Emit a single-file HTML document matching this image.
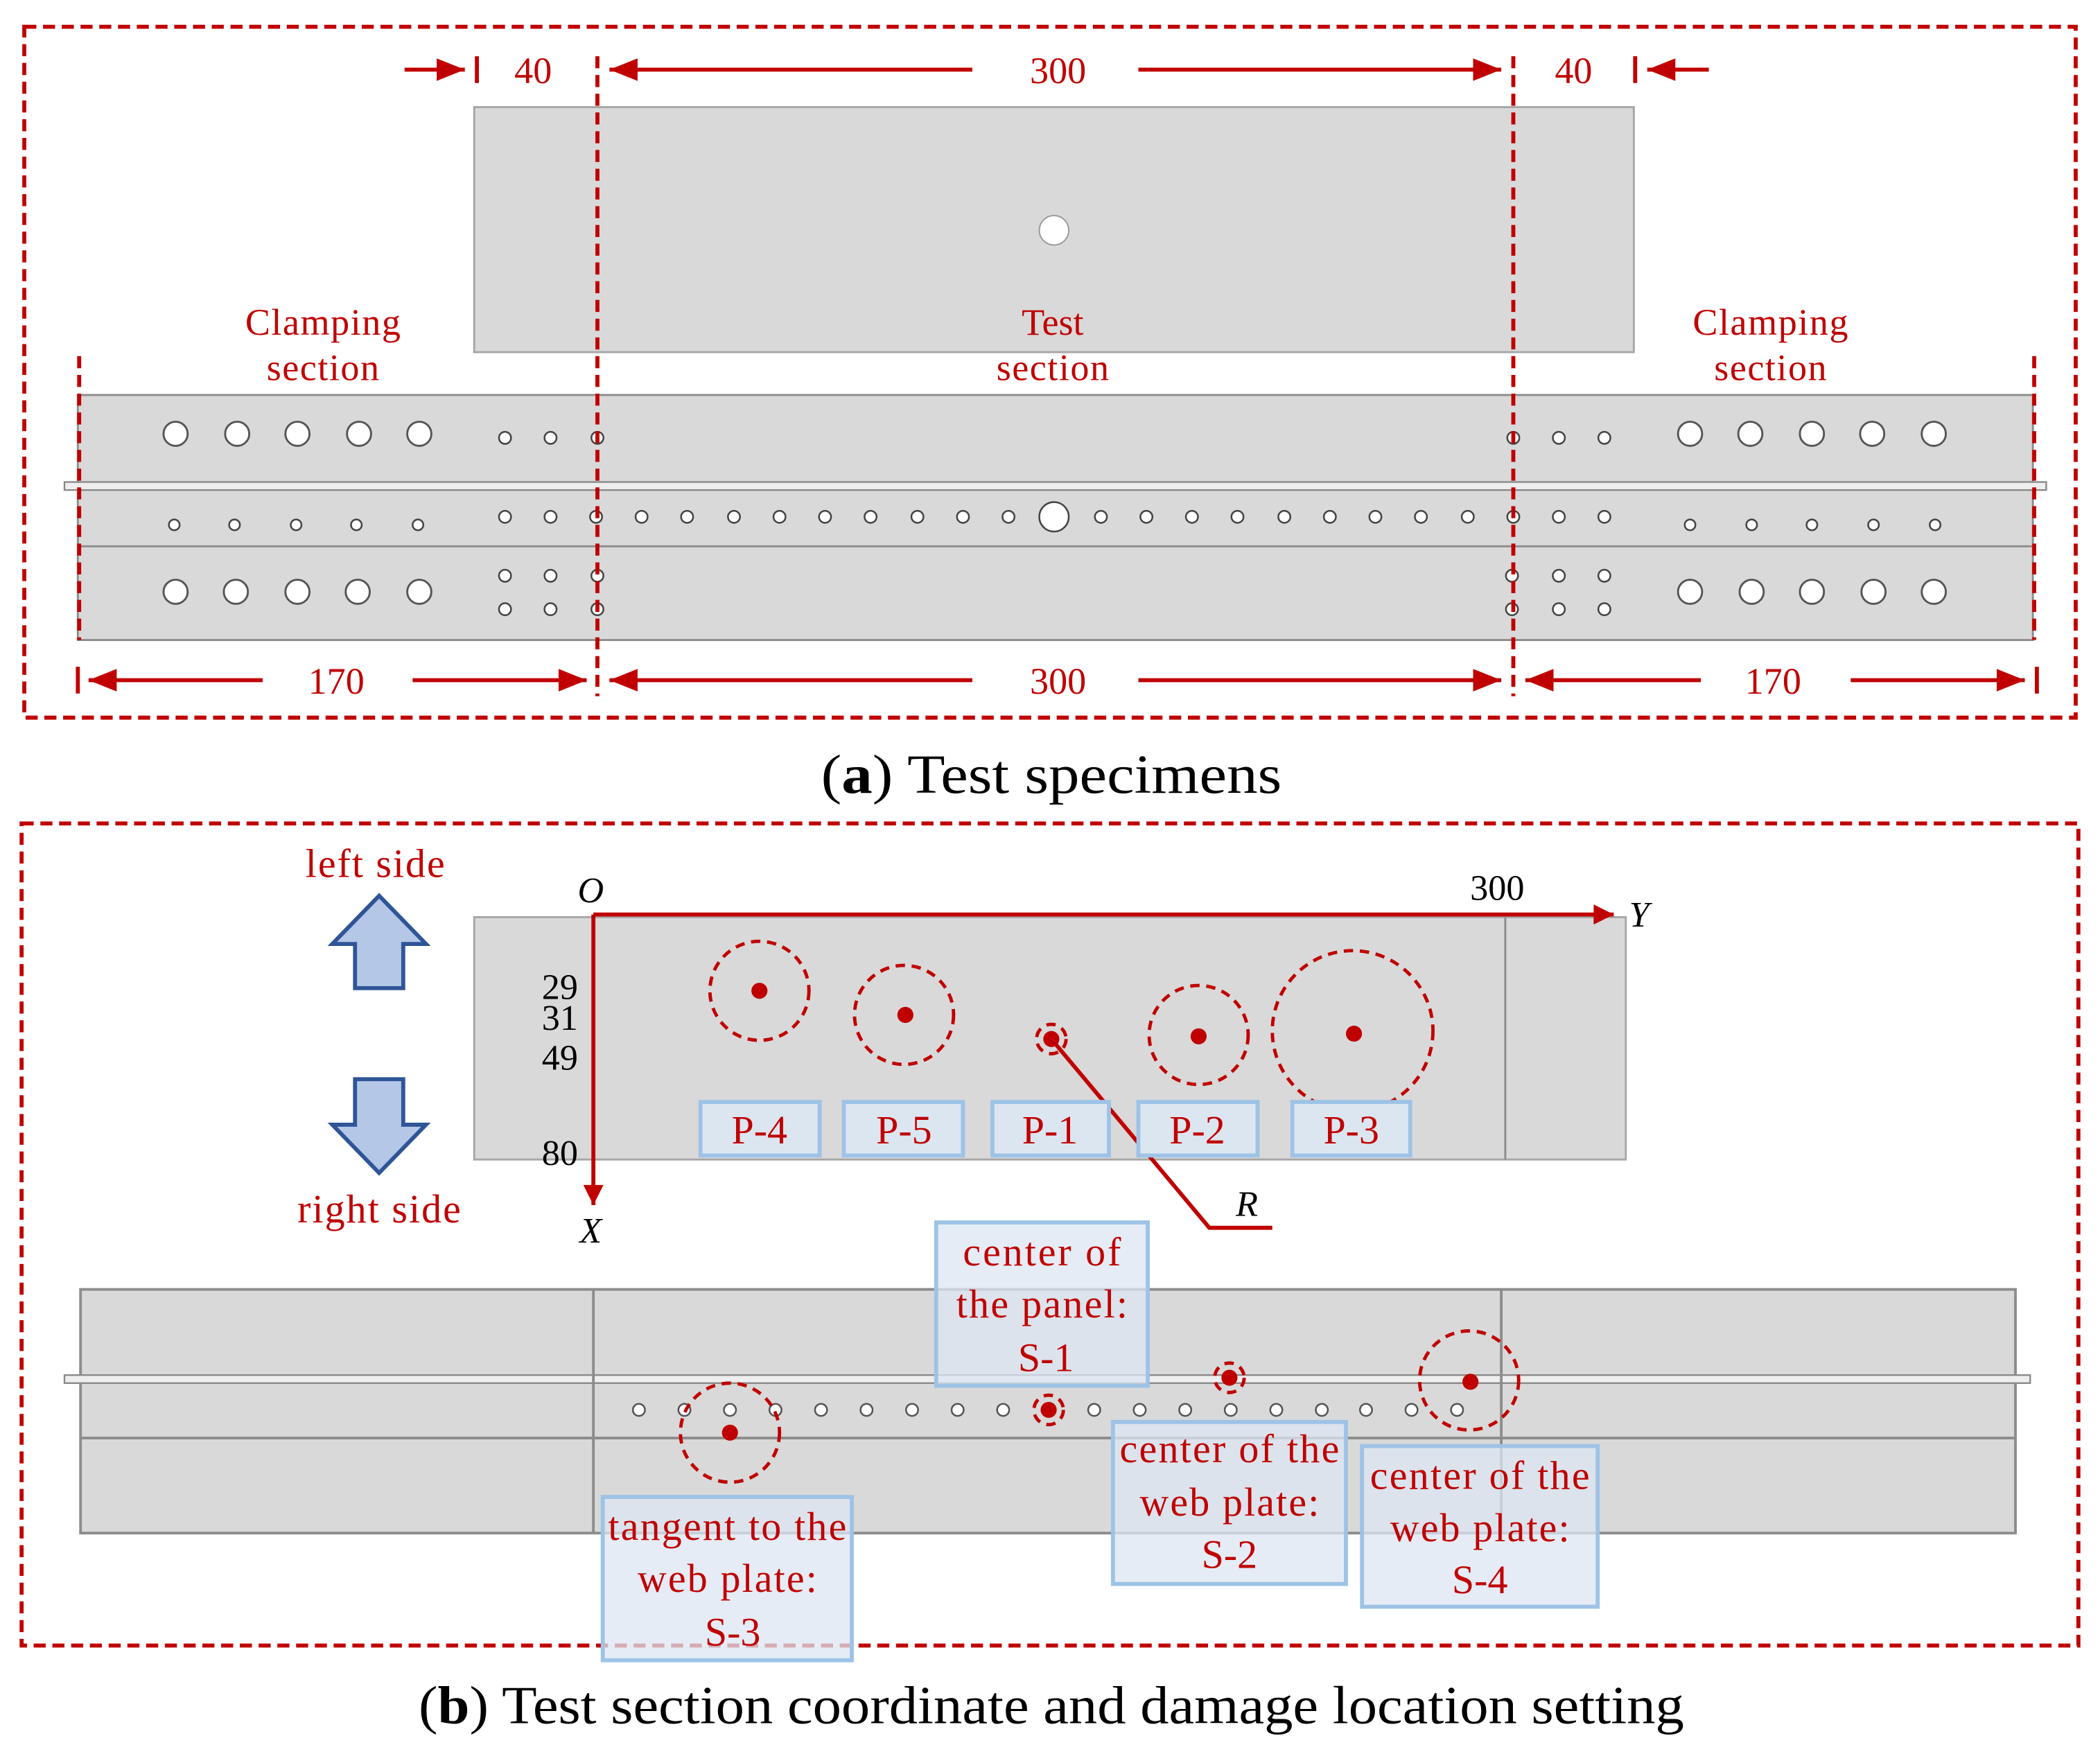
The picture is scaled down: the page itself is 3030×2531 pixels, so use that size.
<!DOCTYPE html>
<html><head><meta charset="utf-8"><style>
html,body{margin:0;padding:0;background:#fff;}
svg{display:block;}
text{font-family:"Liberation Serif",serif;}
</style></head><body>
<svg width="3030" height="2531" viewBox="0 0 1568 1310" xmlns="http://www.w3.org/2000/svg">
<defs>
<marker id="ar" viewBox="0 0 10 10" refX="10" refY="5" markerWidth="7" markerHeight="7" orient="auto"><path d="M0,1 L10,5 L0,9 z" fill="#c00000"/></marker>
<marker id="ar2" viewBox="0 0 10 10" refX="10" refY="5" markerWidth="6" markerHeight="5" orient="auto"><path d="M0,0 L10,5 L0,10 z" fill="#c00000"/></marker>
</defs>
<g fill="none" stroke="#c00000" stroke-width="3" stroke-dasharray="9,5">
<rect x="18" y="20" width="1532" height="516"/>
<rect x="16" y="615" width="1536" height="614"/>
</g>
<!-- (a) -->
<rect x="354" y="80" width="866" height="183" fill="#d9d9d9" stroke="#a6a6a6" stroke-width="1.5"/>
<circle cx="787" cy="172" r="11" fill="#fff" stroke="#999"/>
<rect x="58" y="295" width="1460" height="183" fill="#d9d9d9" stroke="#8c8c8c" stroke-width="1.5"/>
<rect x="48" y="360" width="1480" height="6" fill="#eee" stroke="#888" stroke-width="1.2"/>
<line x1="58" y1="408" x2="1518" y2="408" stroke="#8c8c8c" stroke-width="1.5"/>
<g fill="#fff" stroke="#555" stroke-width="1.5">
<circle cx="131" cy="324" r="9"/><circle cx="177" cy="324" r="9"/><circle cx="222" cy="324" r="9"/><circle cx="268" cy="324" r="9"/><circle cx="313" cy="324" r="9"/>
<circle cx="131" cy="442" r="9"/><circle cx="176" cy="442" r="9"/><circle cx="222" cy="442" r="9"/><circle cx="267" cy="442" r="9"/><circle cx="313" cy="442" r="9"/>
<circle cx="1262" cy="324" r="9"/><circle cx="1307" cy="324" r="9"/><circle cx="1353" cy="324" r="9"/><circle cx="1398" cy="324" r="9"/><circle cx="1444" cy="324" r="9"/>
<circle cx="1262" cy="442" r="9"/><circle cx="1308" cy="442" r="9"/><circle cx="1353" cy="442" r="9"/><circle cx="1399" cy="442" r="9"/><circle cx="1444" cy="442" r="9"/>
</g>
<g fill="#fff" stroke="#444" stroke-width="1.3">
<circle cx="130" cy="392" r="4"/><circle cx="175" cy="392" r="4"/><circle cx="221" cy="392" r="4"/><circle cx="266" cy="392" r="4"/><circle cx="312" cy="392" r="4"/>
<circle cx="1262" cy="392" r="4"/><circle cx="1308" cy="392" r="4"/><circle cx="1353" cy="392" r="4"/><circle cx="1399" cy="392" r="4"/><circle cx="1445" cy="392" r="4"/>
<circle cx="377" cy="327" r="4.5"/><circle cx="411" cy="327" r="4.5"/><circle cx="446" cy="327" r="4.5"/>
<circle cx="1130" cy="327" r="4.5"/><circle cx="1164" cy="327" r="4.5"/><circle cx="1198" cy="327" r="4.5"/>
<circle cx="377" cy="430" r="4.5"/><circle cx="411" cy="430" r="4.5"/><circle cx="446" cy="430" r="4.5"/>
<circle cx="377" cy="455" r="4.5"/><circle cx="411" cy="455" r="4.5"/><circle cx="446" cy="455" r="4.5"/>
<circle cx="1129" cy="430" r="4.5"/><circle cx="1164" cy="430" r="4.5"/><circle cx="1198" cy="430" r="4.5"/>
<circle cx="1129" cy="455" r="4.5"/><circle cx="1164" cy="455" r="4.5"/><circle cx="1198" cy="455" r="4.5"/>
<circle cx="377" cy="386" r="4.5"/><circle cx="411" cy="386" r="4.5"/><circle cx="445" cy="386" r="4.5"/><circle cx="479" cy="386" r="4.5"/><circle cx="513" cy="386" r="4.5"/><circle cx="548" cy="386" r="4.5"/><circle cx="582" cy="386" r="4.5"/><circle cx="616" cy="386" r="4.5"/><circle cx="650" cy="386" r="4.5"/><circle cx="685" cy="386" r="4.5"/><circle cx="719" cy="386" r="4.5"/><circle cx="753" cy="386" r="4.5"/>
<circle cx="822" cy="386" r="4.5"/><circle cx="856" cy="386" r="4.5"/><circle cx="890" cy="386" r="4.5"/><circle cx="924" cy="386" r="4.5"/><circle cx="959" cy="386" r="4.5"/><circle cx="993" cy="386" r="4.5"/><circle cx="1027" cy="386" r="4.5"/><circle cx="1061" cy="386" r="4.5"/><circle cx="1096" cy="386" r="4.5"/><circle cx="1130" cy="386" r="4.5"/><circle cx="1164" cy="386" r="4.5"/><circle cx="1198" cy="386" r="4.5"/>
<circle cx="787" cy="386" r="11"/>
</g>
<g stroke="#c00000" stroke-width="3" stroke-dasharray="9,5">
<line x1="446" y1="42" x2="446" y2="520"/><line x1="1130" y1="42" x2="1130" y2="520"/>
<line x1="59" y1="266" x2="59" y2="478"/><line x1="1519" y1="266" x2="1519" y2="478"/>
</g>
<g stroke="#c00000" stroke-width="3">
<line x1="356" y1="42" x2="356" y2="62"/><line x1="1221" y1="42" x2="1221" y2="62"/>
<line x1="58" y1="498" x2="58" y2="518"/><line x1="1521" y1="498" x2="1521" y2="518"/>
<line x1="302" y1="52" x2="347" y2="52" marker-end="url(#ar)"/>
<line x1="726" y1="52" x2="455" y2="52" marker-end="url(#ar)"/>
<line x1="850" y1="52" x2="1121" y2="52" marker-end="url(#ar)"/>
<line x1="1276" y1="52" x2="1230" y2="52" marker-end="url(#ar)"/>
<line x1="196" y1="508" x2="66" y2="508" marker-end="url(#ar)"/>
<line x1="308" y1="508" x2="438" y2="508" marker-end="url(#ar)"/>
<line x1="726" y1="508" x2="455" y2="508" marker-end="url(#ar)"/>
<line x1="850" y1="508" x2="1121" y2="508" marker-end="url(#ar)"/>
<line x1="1270" y1="508" x2="1139" y2="508" marker-end="url(#ar)"/>
<line x1="1382" y1="508" x2="1512" y2="508" marker-end="url(#ar)"/>
</g>
<g fill="#c00000" font-size="28" text-anchor="middle" lengthAdjust="spacingAndGlyphs">
<text x="398" y="62">40</text><text x="790" y="62">300</text><text x="1175" y="62">40</text>
<text x="251" y="518">170</text><text x="790" y="518">300</text><text x="1324" y="518">170</text>
<text x="241" y="250" textLength="116">Clamping</text><text x="241" y="284" textLength="84">section</text>
<text x="786" y="250">Test</text><text x="786" y="284" textLength="84">section</text>
<text x="1322" y="250" textLength="116">Clamping</text><text x="1322" y="284" textLength="84">section</text>
</g>
<text x="785" y="592" font-size="41" text-anchor="middle" fill="#000" textLength="344" lengthAdjust="spacingAndGlyphs">(<tspan font-weight="bold">a</tspan>) Test specimens</text>
<!-- (b) -->
<rect x="354" y="685" width="860" height="181" fill="#d9d9d9" stroke="#a6a6a6" stroke-width="1.5"/>
<line x1="1124" y1="685" x2="1124" y2="866" stroke="#8c8c8c" stroke-width="1.5"/>
<rect x="60" y="963" width="1445" height="182" fill="#d9d9d9" stroke="#8c8c8c" stroke-width="2"/>
<rect x="48" y="1027" width="1468" height="6" fill="#eee" stroke="#888" stroke-width="1.2"/>
<line x1="60" y1="1074" x2="1505" y2="1074" stroke="#8c8c8c" stroke-width="2"/>
<line x1="443" y1="963" x2="443" y2="1145" stroke="#8c8c8c" stroke-width="2"/>
<line x1="1121" y1="963" x2="1121" y2="1145" stroke="#8c8c8c" stroke-width="2"/>
<g fill="#fff" stroke="#555" stroke-width="1.3">
<circle cx="477" cy="1053" r="4.5"/><circle cx="511" cy="1053" r="4.5"/><circle cx="545" cy="1053" r="4.5"/><circle cx="579" cy="1053" r="4.5"/><circle cx="613" cy="1053" r="4.5"/><circle cx="647" cy="1053" r="4.5"/><circle cx="681" cy="1053" r="4.5"/><circle cx="715" cy="1053" r="4.5"/><circle cx="749" cy="1053" r="4.5"/><circle cx="817" cy="1053" r="4.5"/><circle cx="851" cy="1053" r="4.5"/><circle cx="885" cy="1053" r="4.5"/><circle cx="919" cy="1053" r="4.5"/><circle cx="953" cy="1053" r="4.5"/><circle cx="987" cy="1053" r="4.5"/><circle cx="1020" cy="1053" r="4.5"/><circle cx="1054" cy="1053" r="4.5"/><circle cx="1088" cy="1053" r="4.5"/>
</g>
<g stroke="#c00000" stroke-width="3">
<line x1="443" y1="683" x2="1205" y2="683" marker-end="url(#ar2)"/>
<line x1="443" y1="683" x2="443" y2="900" marker-end="url(#ar2)"/>
<polyline points="785,776 903,917 950,917" fill="none"/>
</g>
<g fill="none" stroke="#c00000" stroke-width="2.5" stroke-dasharray="7,5">
<circle cx="567" cy="740" r="37"/><circle cx="675" cy="758" r="37"/><circle cx="895" cy="773" r="37"/><circle cx="1010" cy="770" r="60"/>
<circle cx="545" cy="1070" r="37"/><circle cx="1097" cy="1031" r="37"/>
<circle cx="785" cy="776" r="11"/><circle cx="783" cy="1053" r="11"/><circle cx="918" cy="1029" r="11"/>
</g>
<g fill="#c00000">
<circle cx="567" cy="740" r="6"/><circle cx="676" cy="758" r="6"/><circle cx="895" cy="774" r="6"/><circle cx="1011" cy="772" r="6"/>
<circle cx="545" cy="1070" r="6"/><circle cx="1098" cy="1032" r="6"/>
<circle cx="785" cy="776" r="6"/><circle cx="783" cy="1053" r="6"/><circle cx="918" cy="1029" r="6"/>
</g>
<g fill="#dce6f1" stroke="#9dc3e6" stroke-width="3">
<rect x="523" y="823" width="89" height="40"/><rect x="630" y="823" width="89" height="40"/><rect x="741" y="823" width="87" height="40"/><rect x="850" y="823" width="89" height="40"/><rect x="965" y="823" width="88" height="40"/>
</g>
<g fill="#dce6f1" fill-opacity="0.75" stroke="#9dc3e6" stroke-width="3">
<rect x="699" y="913" width="158" height="122"/>
<rect x="831" y="1062" width="174" height="121"/>
<rect x="1017" y="1080" width="176" height="120"/>
<rect x="450" y="1118" width="186" height="122"/>
</g>
<g fill="#c00000" font-size="30" text-anchor="middle" lengthAdjust="spacingAndGlyphs">
<text x="567" y="854">P-4</text><text x="675" y="854">P-5</text><text x="784" y="854">P-1</text><text x="894" y="854">P-2</text><text x="1009" y="854">P-3</text>
<text x="778" y="945" textLength="118">center of</text><text x="778" y="984" textLength="128">the panel:</text><text x="781" y="1024">S-1</text>
<text x="918" y="1092" textLength="164">center of the</text><text x="918" y="1132" textLength="134">web plate:</text><text x="918" y="1171">S-2</text>
<text x="1105" y="1112" textLength="164">center of the</text><text x="1105" y="1151" textLength="134">web plate:</text><text x="1105" y="1190">S-4</text>
<text x="543" y="1150" textLength="178">tangent to the</text><text x="543" y="1189" textLength="134">web plate:</text><text x="547" y="1229">S-3</text>
<text x="280" y="655" textLength="104">left side</text><text x="283" y="913" textLength="122">right side</text>
</g>
<g fill="#000" font-size="27" text-anchor="middle">
<text x="441" y="674" font-style="italic">O</text><text x="1118" y="672">300</text><text x="1224" y="692" font-style="italic">Y</text><text x="441" y="928" font-style="italic">X</text>
<text x="418" y="746">29</text><text x="418" y="769">31</text><text x="418" y="799">49</text><text x="418" y="870">80</text>
<text x="931" y="908" font-style="italic">R</text>
</g>
<g fill="#b4c7e7" stroke="#2f5597" stroke-width="3">
<polygon points="283,669 318,705 301,705 301,738 265,738 265,705 248,705"/>
<polygon points="283,876 318,840 301,840 301,806 265,806 265,840 248,840"/>
</g>
<text x="785" y="1287" font-size="40" text-anchor="middle" fill="#000" textLength="945" lengthAdjust="spacingAndGlyphs">(<tspan font-weight="bold">b</tspan>) Test section coordinate and damage location setting</text>
</svg>
</body></html>
